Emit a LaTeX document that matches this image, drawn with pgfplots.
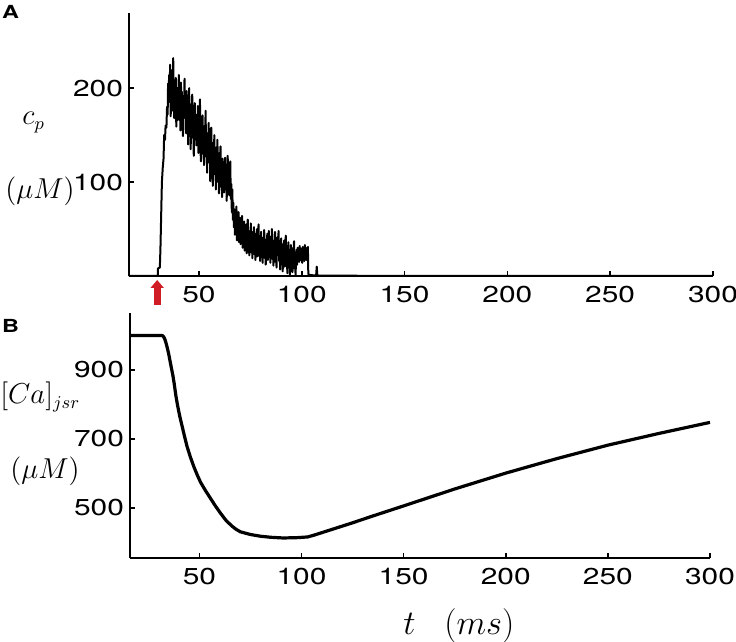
\documentclass[border=0pt]{standalone}
\usepackage{fontspec}
\setmainfont{TeX Gyre Heros}[FakeStretch=1.3]
\usepackage{pgfplots}
\pgfplotsset{compat=1.18}
\usetikzlibrary{arrows.meta}
\definecolor{arrowred}{RGB}{208,28,36}
\pgfplotsset{
  panel/.style={
    scale only axis,
    axis x line*=bottom, axis y line*=left,
    xmin=16, xmax=300,
    xtick={50,100,...,300},
    tick align=inside,
    major tick length=2.5pt,
    axis line style={line width=1pt},
    tick style={line width=0.8pt, black},
    /pgf/number format/assume math mode=true,
    tick label style={font=\fontsize{11.5}{13}\selectfont},
    xticklabel style={yshift=-1.5pt},
    yticklabel style={xshift=0.5pt},
    clip=false,
  }
}
\begin{document}
\begin{tikzpicture}
\useasboundingbox (-64.5pt,-183pt) rectangle (303.5pt,138pt);
\begin{axis}[panel, name=A, at={(0,0)}, anchor=south west,
  width=292pt, height=131.5pt, ymin=0, ymax=280, ytick={100,200}]
\addplot[black, line width=1pt, line join=round] coordinates {
(16,0) (30,0) (30.1,8) (31,9) (31.3,30) (31.7,70) (32,100) (32.4,115) (32.8,125) (33.1,150) (33.5,145) (33.8,160) (34.2,158) (34.5,180) (34.8,172) (35,205)
(35.25,185) (35.5,214) (35.75,192) (36,225) (36.25,170) (36.5,182) (36.75,219) (37,201) (37.25,176) (37.5,232) (37.75,190) (38,168)
(38.25,204) (38.5,183) (38.75,211) (39,159) (39.25,187) (39.5,200) (39.75,166) (40,193) (40.25,214) (40.5,172) (40.75,188) (41,155)
(41.25,206) (41.5,178) (41.75,196) (42,162) (42.25,149) (42.5,190) (42.75,174) (43,210) (43.25,168) (43.5,181) (43.75,152) (44,197)
(44.25,163) (44.5,185) (44.75,140) (45,176) (45.25,200) (45.5,158) (45.75,171) (46,135) (46.25,183) (46.5,162) (46.75,193) (47,147)
(47.25,170) (47.5,128) (47.75,165) (48,184) (48.25,150) (48.5,172) (48.75,139) (49,160) (49.25,145) (49.5,181) (49.75,131) (50,167)
(50.25,150) (50.5,188) (50.75,136) (51,122) (51.25,164) (51.5,142) (51.75,171) (52,130) (52.25,155) (52.5,118) (52.75,160) (53,139)
(53.25,176) (53.5,127) (53.75,148) (54,110) (54.25,152) (54.5,135) (54.75,163) (55,121) (55.25,145) (55.5,101) (55.75,140) (56,158)
(56.25,117) (56.5,134) (56.75,96) (57,142) (57.25,125) (57.5,150) (57.75,108) (58,129) (58.25,92) (58.5,137) (58.75,116) (59,145)
(59.25,100) (59.5,122) (59.75,88) (60,131) (60.25,109) (60.5,138) (60.75,95) (61,117) (61.25,84) (61.5,125) (61.75,103) (62,120)
(62.25,89) (62.5,111) (62.75,126) (63,92) (63.25,118) (63.5,80) (63.75,107) (64,128) (64.25,95) (64.5,116) (64.75,86) (65,104)
(65.25,122) (65.5,82) (65.75,98) (66,68) (66.25,92) (66.5,60) (66.75,78) (67,52) (67.25,71) (67.5,44) (67.75,66) (68,50)
(68.25,74) (68.5,38) (68.75,57) (69,45) (69.25,68) (69.5,36) (69.75,55) (70,62) (70.25,34) (70.5,50) (70.75,41) (71,64)
(71.25,30) (71.5,52) (71.75,38) (72,58) (72.25,27) (72.5,46) (72.75,33) (73,55) (73.25,24) (73.5,42) (73.75,60) (74,30)
(74.25,48) (74.5,22) (74.75,44) (75,35) (75.25,56) (75.5,25) (75.75,40) (76,19) (76.25,47) (76.5,31) (76.75,52) (77,23)
(77.25,38) (77.5,17) (77.75,45) (78,29) (78.25,50) (78.5,21) (78.75,36) (79,55) (79.25,24) (79.5,42) (79.75,16) (80,33)
(80.25,47) (80.5,20) (80.75,38) (81,14) (81.25,41) (81.5,27) (81.75,49) (82,19) (82.25,34) (82.5,12) (82.75,39) (83,25)
(83.25,45) (83.5,17) (83.75,31) (84,48) (84.25,20) (84.5,36) (84.75,14) (85,42) (85.25,26) (85.5,50) (85.75,18) (86,33)
(86.25,11) (86.5,38) (86.75,24) (87,47) (87.25,15) (87.5,30) (87.75,9) (88,41) (88.25,22) (88.5,35) (88.75,48) (89,16)
(89.25,32) (89.5,7) (89.75,27) (90,40) (90.25,13) (90.5,29) (90.75,5) (91,34) (91.25,18) (91.5,38) (91.75,10) (92,25)
(92.25,43) (92.5,12) (92.75,28) (93,3) (93.25,22) (93.5,36) (93.75,9) (94,26) (94.25,1) (94.5,20) (94.75,33) (95,11)
(95.25,24) (95.5,4) (95.75,30) (96,15) (96.25,37) (96.5,8) (96.75,21) (97,1) (97.25,18) (97.5,28) (97.75,12) (98,30)
(98.25,19) (98.5,26) (98.75,15) (99,32) (99.25,21) (99.5,17) (99.75,29) (100,22) (100.25,14) (100.5,31) (100.75,19) (101,26)
(101.25,16) (101.5,33) (101.75,21) (102,27) (102.25,17) (102.5,30) (102.75,24) (103,31) (103.2,2) (104,1) (107,0.5) (107.3,10)
(107.6,0.5) (115,0.5) (130,0.2) (300,0)
};
\draw[arrowred, line width=3.5pt, -{Triangle[width=6.5pt,length=4pt]}]
  ([yshift=-14.5pt]axis cs:29.7,0) -- ([yshift=-2pt]axis cs:29.7,0);
\end{axis}
\begin{axis}[panel, name=B, at={(0.5pt,-141pt)}, anchor=south west,
  width=290pt, height=122.5pt, ymin=355, ymax=1065, ytick={500,700,900}]
\addplot[black, line width=1.6pt, line join=round] coordinates {
(16,1000) (31.5,1000) (32,999) (32.5,996) (33,990) (33.5,981) (34,970) (34.5,958) (35,945) (35.6,926)
(36.3,905) (37,884) (37.6,862) (38.4,828) (39.2,800) (40.4,765) (41.6,735) (42.8,705) (44,677) (45.6,647)
(47.3,619) (48.9,596) (50.5,575) (53,550) (55.4,528) (57.8,506) (60.3,485) (63,464) (66,447) (68,438)
(70,431) (75,423) (80,418) (85,415) (91,413) (98,414) (103,416) (106,421) (115,438) (125,457) (134,475)
(150,506) (175,555) (200,601) (225,643) (250,682) (275,716) (300,748)
};
\end{axis}
\node[font=\fontsize{9}{10}\selectfont\bfseries, inner sep=0] at (-59.25pt,132pt) {A};
\node[font=\fontsize{9}{10}\selectfont\bfseries, inner sep=0] at (-59.25pt,-25pt) {B};
\node[font=\fontsize{13.5}{15}\selectfont, inner sep=0, anchor=base west] at (-53.5pt,75.5pt) {$c_p$};
\node[font=\fontsize{13.5}{15}\selectfont, inner sep=0, anchor=base west] at (-62pt,38.6pt) {$(\mu M)$};
\node[font=\fontsize{13.5}{15}\selectfont, inner sep=0, anchor=base west] at (-64.5pt,-64pt) {$[Ca]_{jsr}$};
\node[font=\fontsize{13.5}{15}\selectfont, inner sep=0, anchor=base west] at (-59.5pt,-101.25pt) {$(\mu M)$};
\node[font=\fontsize{16}{18}\selectfont, inner sep=0, anchor=base west] at (137pt,-179.5pt) {$t\hspace{0.9em}(ms)$};
\end{tikzpicture}
\end{document}
